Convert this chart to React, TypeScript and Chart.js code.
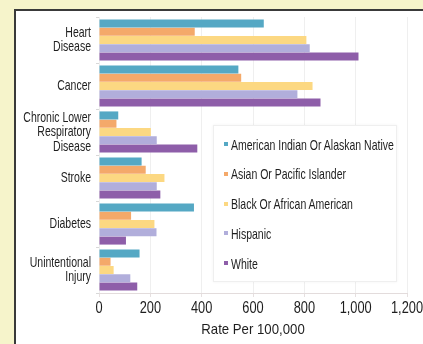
import React, { useEffect, useRef } from "react";
import { Chart, registerables } from "chart.js";

Chart.register(...registerables);

const categories: string[][] = [
  ["Heart", "Disease"],
  ["Cancer"],
  ["Chronic Lower", "Respiratory", "Disease"],
  ["Stroke"],
  ["Diabetes"],
  ["Unintentional", "Injury"],
];

const seriesNames = [
  "American Indian Or Alaskan Native",
  "Asian Or Pacific Islander",
  "Black Or African American",
  "Hispanic",
  "White",
];

const americanIndian = [642, 543, 75, 166, 370, 158];
const asianPacific = [373, 554, 68, 182, 125, 45];
const blackAfrican = [808, 832, 202, 255, 216, 57];
const hispanic = [821, 773, 225, 225, 224, 122];
const white = [1011, 863, 383, 239, 105, 149];

const xTicks = [0, 200, 400, 600, 800, 1000, 1200];
const xTitle = "Rate Per 100,000";

const colors = ["#55a8c4", "#f4a96a", "#fcd882", "#b1aedb", "#8e5ea9"];

const FONT = '"Liberation Sans", Arial, sans-serif';
const TEXT = "#1e1e1e";

function drawNarrow(ctx: CanvasRenderingContext2D, text: string, x: number, y: number, sx: number, align: CanvasTextAlign, font: string) {
  ctx.save();
  ctx.translate(x, y);
  ctx.scale(sx, 1);
  ctx.font = font;
  ctx.fillStyle = TEXT;
  ctx.textAlign = align;
  ctx.textBaseline = "middle";
  ctx.fillText(text, 0, 0);
  ctx.restore();
}

const narrowText = {
  id: "narrowText",
  afterDraw(chart: any) {
    const ctx = chart.ctx as CanvasRenderingContext2D;
    const ys = chart.scales.y;
    const xs = chart.scales.x;
    const area = chart.chartArea;
    const lh = 14.5;
    categories.forEach((lines, i) => {
      const yc = ys.getPixelForValue(i);
      const start = yc - ((lines.length - 1) * lh) / 2;
      lines.forEach((t, j) => drawNarrow(ctx, t, area.left - 8, start + j * lh, 0.7, "right", `15px ${FONT}`));
    });
    xTicks.forEach((v) => {
      drawNarrow(ctx, v.toLocaleString("en-US"), xs.getPixelForValue(v), area.bottom + 16, 0.8, "center", `16px ${FONT}`);
    });
    drawNarrow(ctx, xTitle, (area.left + area.right) / 2, area.bottom + 37, 0.88, "center", `15px ${FONT}`);
  },
};

export default function App() {
  const ref = useRef<HTMLCanvasElement>(null);

  useEffect(() => {
    if (!ref.current) return;
    const values = [americanIndian, asianPacific, blackAfrican, hispanic, white];
    const chart = new Chart(ref.current, {
      type: "bar",
      data: {
        labels: categories,
        datasets: seriesNames.map((name, i) => ({
          label: name,
          data: values[i],
          backgroundColor: colors[i],
          borderWidth: 0,
          barPercentage: 0.97,
          categoryPercentage: 0.9,
        })),
      },
      options: {
        indexAxis: "y",
        animation: false,
        responsive: false,
        maintainAspectRatio: false,
        layout: { padding: { top: 17, right: 16, left: 0, bottom: 0 } },
        plugins: {
          legend: { display: false },
          tooltip: { enabled: false },
        },
        scales: {
          x: {
            min: 0,
            max: 1200,
            afterBuildTicks: (scale: any) => {
              scale.ticks = xTicks.map((v) => ({ value: v }));
            },
            afterFit: (scale: any) => {
              scale.height = 51;
            },
            ticks: { display: false },
            grid: {
              color: "#efefef",
              tickLength: 4,
              tickColor: "#e6e0e0",
            },
            border: { color: "#e3dcdc", width: 1 },
          },
          y: {
            afterFit: (scale: any) => {
              scale.width = 99;
            },
            ticks: { display: false },
            grid: {
              drawOnChartArea: false,
              tickLength: 3,
              tickColor: "#d8d8d8",
            },
            border: { display: false },
          },
        },
      },
      plugins: [narrowText],
    });
    return () => chart.destroy();
  }, []);

  return (
    <div style={{ position: "fixed", left: 0, top: 0, width: 423, height: 344, overflow: "hidden", background: "#f6f4cb" }}>
      <div
        style={{
          position: "absolute",
          left: 14,
          top: 9,
          width: 420,
          height: 350,
          background: "#ffffff",
          border: "2px solid #3a3a3a",
        }}
      />
      <canvas ref={ref} width={423} height={344} style={{ position: "absolute", left: 0, top: 0 }} />
      <div
        style={{
          position: "absolute",
          left: 213,
          top: 125,
          width: 182,
          height: 155,
          background: "#ffffff",
          border: "1px solid #efefef",
          boxShadow: "0 0 3px rgba(0,0,0,0.05)",
          fontFamily: FONT,
          fontSize: 15,
          color: TEXT,
        }}
      >
        {seriesNames.map((name, i) => (
          <div
            key={name}
            style={{ position: "absolute", left: 10, top: 8 + i * 29.8, height: 20, display: "flex", alignItems: "center", whiteSpace: "nowrap" }}
          >
            <span style={{ display: "inline-block", width: 4, height: 4, background: colors[i], marginRight: 3 }} />
            <span style={{ display: "inline-block", transform: "scaleX(0.7)", transformOrigin: "left center" }}>{name}</span>
          </div>
        ))}
      </div>
    </div>
  );
}
